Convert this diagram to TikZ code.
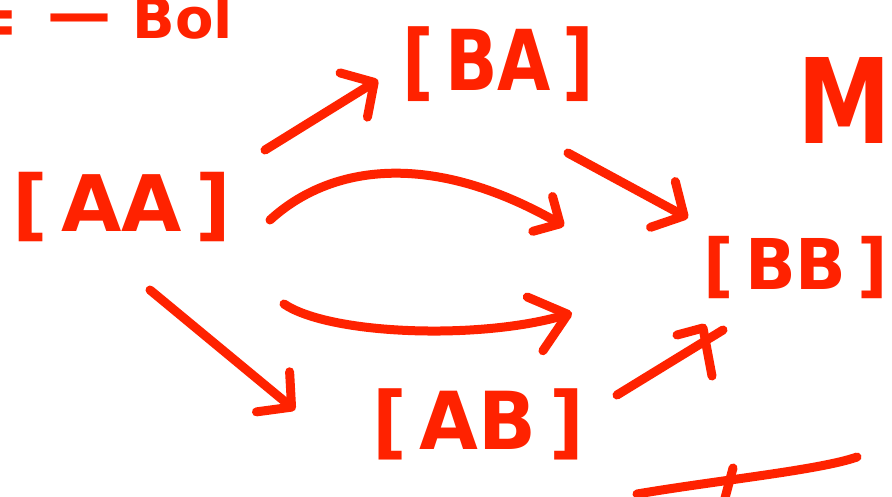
\documentclass[tikz,border=0pt]{standalone}
\usepackage{fontspec}
\setmainfont{DejaVu Sans}
\usetikzlibrary{arrows.meta}
\definecolor{ink}{RGB}{255,34,0}
\begin{document}
\begin{tikzpicture}[x=1pt,y=-1pt,
  color=ink, line width=9pt, line cap=round, line join=round,
  lbl/.style={text=ink, inner sep=0pt},
  arr/.style={-{Straight Barb[length=24pt,width=52pt,round]}},
  arrsmall/.style={-{Straight Barb[length=20pt,width=40pt,round]}},
  arrbig/.style={-{Straight Barb[length=34pt,width=56pt,round]}}]
\useasboundingbox (0,0) rectangle (892,496);
\fill[white] (0,0) rectangle (892,496);
% objects
\node[lbl, font=\fontsize{78}{80}\selectfont\bfseries] (AA) at (122,207) {[\,AA\,]};
\node[lbl, font=\fontsize{84}{86}\selectfont\bfseries] (BA) at (498,64) {\scalebox{0.82}[1]{[\,BA\,]}};
\node[lbl, font=\fontsize{80}{82}\selectfont\bfseries] (AB) at (478,424) {\scalebox{0.95}[1]{[\,AB\,]}};
\node[lbl, font=\fontsize{70}{72}\selectfont\bfseries] (BB) at (796,268) {\scalebox{0.95}[1]{[\,BB\,]}};
\node[lbl, font=\fontsize{118}{120}\selectfont\bfseries] (M) at (844,100) {\scalebox{0.8}[1]{M}};
\node[lbl, font=\fontsize{56}{58}\selectfont\bfseries, anchor=base west] (Bol) at (128,38) {Bol};
\node[lbl, font=\fontsize{64}{66}\selectfont\bfseries] (dash) at (79,25) {—};
\node[lbl, font=\fontsize{72}{74}\selectfont\bfseries, anchor=east] (eq) at (24,28) {=};
% connector ends
\coordinate (aa1) at (265,150);
\coordinate (ba1) at (378,80);
\coordinate (aa2) at (270,220);
\coordinate (m1) at (564,226);
\coordinate (aa3) at (284,304);
\coordinate (m2) at (572,313);
\coordinate (ba2) at (568,153);
\coordinate (bb1) at (688,218);
\coordinate (aa4) at (150,290);
\coordinate (ab1) at (295,410);
\coordinate (ab2) at (617,395);
\coordinate (bb2) at (723,330);
% connectors
\draw[arr] (aa1) -- (ba1);
\draw[arrsmall] (aa2) .. controls (330,165) and (430,150) .. (m1);
\draw[arrbig] (aa3) .. controls (330,335) and (480,340) .. (m2);
\draw[arr] (ba2) -- (bb1);
\draw[arr] (aa4) -- (ab1);
\draw (ab2) -- (bb2);
\draw (677,335) -- (703,328) -- (712,376);
% stroke at bottom right
\draw (637,494) .. controls (720,480) and (820,470) .. (857,457);
\draw (733,468) -- (725,498);
\end{tikzpicture}
\end{document}
